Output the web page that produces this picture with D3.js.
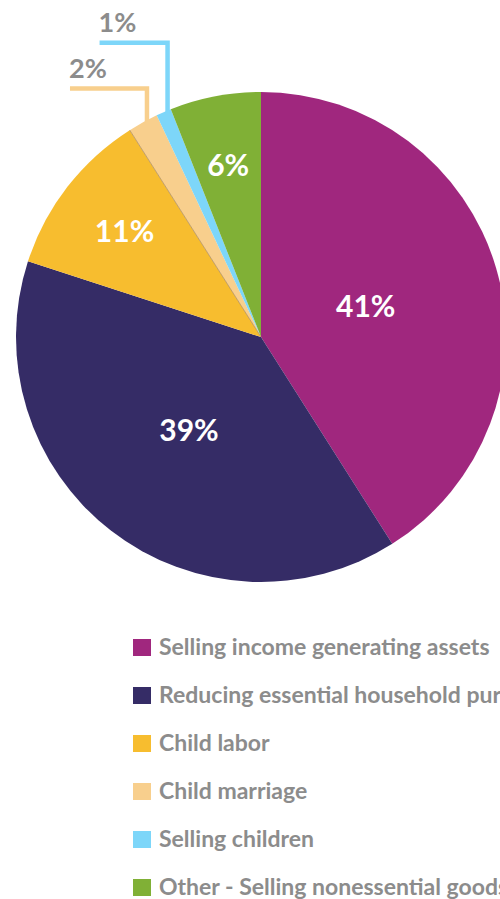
<!DOCTYPE html>
<html>
<head>
<meta charset="utf-8">
<script src="https://cdn.jsdelivr.net/npm/d3@7"></script>
<style>
  html, body { margin: 0; padding: 0; background: #fff; overflow: hidden; }
  svg { display: block; }
  .slice-label { font: 700 30px Lato, sans-serif; fill: #fff; }
  .out-label { font: 700 27px Lato, sans-serif; fill: #8c8c8c; }
  .legend text { font: 700 23px Lato, sans-serif; fill: #8c8c8c; }
</style>
</head>
<body>
<svg id="chart"></svg>
<script>
// data
const categories = [
  "Selling income generating assets",
  "Reducing essential household purchases",
  "Child labor",
  "Child marriage",
  "Selling children",
  "Other - Selling nonessential goods"
];
const values = [41, 39, 11, 2, 1, 6];
const colors = ["#a0277e", "#352c66", "#f7bd2f", "#f8cf8d", "#7dd6f9", "#80b036"];

// label placement: inside labels sit at a radius fraction, tiny slices get an elbow leader
const insideLabel = { 0: 0.445, 1: 0.48, 2: 0.705, 5: 0.715 };
const leader = { 3: { rise: 35, run: 77 }, 4: { rise: 71, run: 68 } };

const width = 500, height = 899;
const cx = 261, cy = 337, radius = 245;

const svg = d3.select("#chart").attr("width", width).attr("height", height);
const g = svg.append("g").attr("transform", `translate(${cx},${cy})`);

const pie = d3.pie().sort(null).value(d => d);
const arcs = pie(values);
const arc = d3.arc().innerRadius(0).outerRadius(radius);

g.selectAll(".slice")
  .data(arcs)
  .enter()
  .append("path")
  .attr("class", "slice")
  .attr("d", arc)
  .attr("fill", (d, i) => colors[i]);

// thin seam between child labor and child marriage
const seam = arcs[3].startAngle;
g.append("line")
  .attr("x1", 0).attr("y1", 0)
  .attr("x2", radius * Math.sin(seam)).attr("y2", -radius * Math.cos(seam))
  .attr("stroke", "#a8875a")
  .attr("stroke-width", 0.7);

// inside labels
g.selectAll(".slice-label")
  .data(arcs.filter(d => insideLabel[d.index] !== undefined))
  .enter()
  .append("text")
  .attr("class", "slice-label")
  .attr("text-anchor", "middle")
  .attr("dy", "0.36em")
  .attr("x", d => {
    const a = (d.startAngle + d.endAngle) / 2;
    return radius * insideLabel[d.index] * Math.sin(a);
  })
  .attr("y", d => {
    const a = (d.startAngle + d.endAngle) / 2;
    return -radius * insideLabel[d.index] * Math.cos(a);
  })
  .text(d => d.value + "%");

// leader labels for the small slices
const small = arcs.filter(d => leader[d.index]);
small.forEach(d => {
  const a = (d.startAngle + d.endAngle) / 2 + 0.012;
  const x0 = (radius - 3) * Math.sin(a);
  const y0 = -(radius - 3) * Math.cos(a);
  const L = leader[d.index];
  const pts = [[x0, y0], [x0, y0 - L.rise], [x0 - L.run, y0 - L.rise]];
  g.append("path")
    .attr("d", d3.line()(pts))
    .attr("fill", "none")
    .attr("stroke", colors[d.index])
    .attr("stroke-width", 4.5);
  g.append("text")
    .attr("class", "out-label")
    .attr("x", x0 - L.run - 1)
    .attr("y", y0 - L.rise - 11)
    .text(d.value + "%");
});

// legend
const legendY = d3.scaleBand()
  .domain(categories)
  .range([627, 915]);

const legend = svg.append("g")
  .attr("class", "legend")
  .selectAll("g")
  .data(categories)
  .enter()
  .append("g")
  .attr("transform", d => `translate(133,${legendY(d)})`);

legend.append("rect")
  .attr("y", 12)
  .attr("width", 18)
  .attr("height", 17)
  .attr("fill", (d, i) => colors[i]);

legend.append("text")
  .attr("x", 26)
  .attr("y", 28)
  .text(d => d);
</script>
</body>
</html>
